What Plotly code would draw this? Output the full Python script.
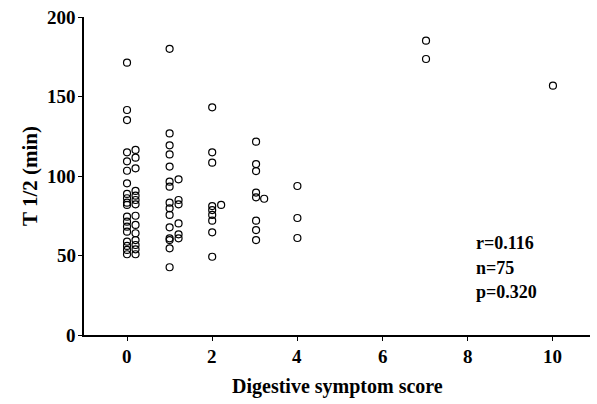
import plotly.graph_objects as go

# Digestive symptom score groups: (score, horizontal display offset, T1/2 values)
group_scores = [0, 0, 1, 1, 2, 2, 3, 3, 4, 7, 10]
group_offsets = [0.0, 0.2, 0.0, 0.21, 0.0, 0.21, 0.03, 0.22, 0.0, 0.02, 0.0]
group_values = [
    [171.3, 141.5, 135.2, 114.9, 109.2, 103.3, 95.4, 88.7, 86.0, 83.2, 81.8,
     74.4, 71.3, 68.1, 65.0, 58.7, 56.0, 53.5, 50.8],
    [116.4, 111.5, 104.8, 90.6, 87.6, 84.9, 82.2, 75.0, 69.2, 64.0, 59.7,
     56.6, 53.9, 50.8],
    [180.0, 126.8, 119.3, 113.6, 105.9, 96.4, 93.3, 83.2, 79.7, 75.5, 67.7,
     60.8, 59.7, 54.5, 42.6],
    [97.9, 84.9, 82.2, 70.2, 63.3, 60.8],
    [143.2, 114.9, 108.4, 81.1, 78.6, 75.5, 71.9, 64.6, 49.2],
    [81.8],
    [121.6, 107.5, 103.1, 89.6, 86.6, 71.9, 66.0, 59.7],
    [85.7],
    [93.7, 73.6, 61.0],
    [185.1, 173.6],
    [156.8],
]

x_tick_vals = [0, 2, 4, 6, 8, 10]
y_tick_vals = [0, 50, 100, 150, 200]
stats_lines = ["r=0.116", "n=75", "p=0.320"]
x_title = "Digestive symptom score"
y_title = "T 1/2 (min)"

xs, ys = [], []
for s, off, vals in zip(group_scores, group_offsets, group_values):
    for v in vals:
        xs.append(s + off)
        ys.append(v)

FONT = "Liberation Serif"

fig = go.Figure()
fig.add_trace(go.Scatter(
    x=xs, y=ys, mode="markers",
    marker=dict(symbol="circle-open", size=7, color="black",
                line=dict(width=1.2, color="black")),
    showlegend=False, hoverinfo="skip"))

fig.update_layout(
    width=597, height=404,
    margin=dict(l=84, r=7, t=17, b=69),
    paper_bgcolor="white", plot_bgcolor="white",
    font=dict(family=FONT, color="black"),
    xaxis=dict(range=[-1.01, 10.87], tickmode="array", tickvals=x_tick_vals,
               showticklabels=False,
               showline=True, linecolor="black", linewidth=1.5,
               ticks="outside", ticklen=4, tickwidth=1, tickcolor="black",
               showgrid=False, zeroline=False),
    yaxis=dict(range=[0, 200], tickmode="array", tickvals=y_tick_vals,
               showticklabels=False,
               showline=True, linecolor="black", linewidth=1.5,
               ticks="outside", ticklen=4, tickwidth=1, tickcolor="black",
               showgrid=False, zeroline=False),
)

tick_font = dict(family=FONT, size=19, color="black")
annotations = []
for v in x_tick_vals:
    annotations.append(dict(
        text="<b>%d</b>" % v, xref="x", yref="paper", x=v, y=0,
        xanchor="center", yanchor="middle", yshift=-21,
        showarrow=False, font=tick_font))
for v in y_tick_vals:
    annotations.append(dict(
        text="<b>%d</b>" % v, xref="paper", yref="y", x=0, y=v,
        xanchor="right", yanchor="middle", xshift=-6,
        showarrow=False, font=tick_font))

annotations += [
    dict(text="<b>%s</b>" % x_title, xref="paper", yref="paper",
         x=0.5, y=0, xanchor="center", yanchor="middle", yshift=-51,
         showarrow=False, font=dict(family=FONT, size=20, color="black")),
    dict(text="<b>%s</b>" % y_title, xref="paper", yref="paper",
         x=0, y=0.5, xanchor="center", yanchor="middle", xshift=-54,
         textangle=-90, showarrow=False,
         font=dict(family=FONT, size=21, color="black")),
]
for i, line in enumerate(stats_lines):
    annotations.append(dict(
        text="<b>%s</b>" % line, xref="x", yref="paper",
        x=8.15, y=0, xanchor="left", yanchor="middle",
        yshift=(335 - 243) - i * 24.5,
        showarrow=False, font=dict(family=FONT, size=18, color="black")))
fig.update_layout(annotations=annotations)

fig.write_html("out.html")
